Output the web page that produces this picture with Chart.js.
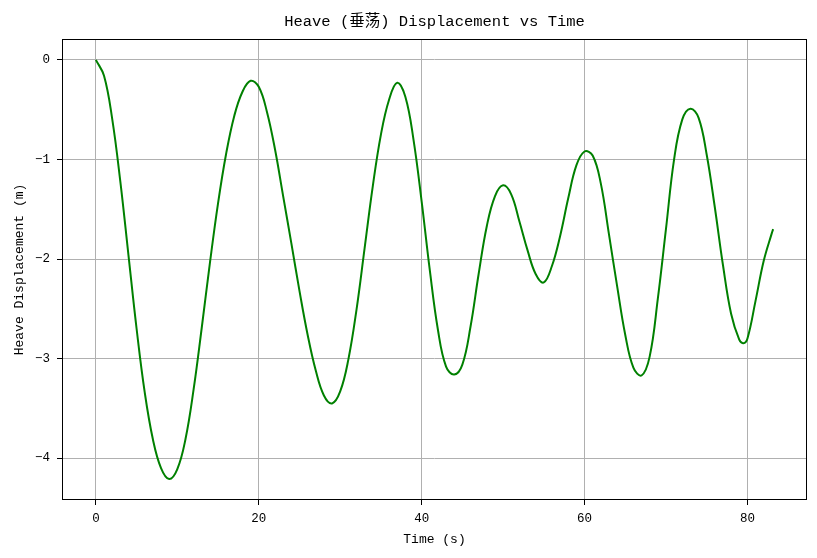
<!DOCTYPE html>
<html>
<head>
<meta charset="utf-8">
<script src="https://cdn.jsdelivr.net/npm/chart.js@4/dist/chart.umd.min.js"></script>
<style>
	html,body{margin:0;padding:0;background:#fff;}
	#wrap{width:817px;height:558px;}
</style>
</head>
<body>
<div id="wrap"><canvas id="ctx" width="817" height="558"></canvas></div>
<script>

// DATA
// --------------------
var timeS = [0,1,2,3,4,5,6,7,8,9,10,11,12,13,14,15,16,17,18,19,
	20,21,22,23,24,25,26,27,28,29,30,31,32,33,34,35,36,37,38,39,
	40,41,42,43,44,45,46,47,48,49,50,51,52,53,54,55,56,57,58,59,
	60,61,62,63,64,65,66,67,68,69,70,71,72,73,74,75,76,77,78,79,79.5,
	80,81,82,83,83.16];

var heaveM = [0,-0.16,-0.59,-1.22,-1.96,-2.7,-3.34,-3.81,-4.1,-4.21,-4.11,-3.81,-3.31,-2.69,-2.04,-1.44,-0.94,-0.56,-0.32,-0.21,
	-0.27,-0.52,-0.9,-1.37,-1.84,-2.32,-2.76,-3.12,-3.37,-3.45,-3.33,-3.01,-2.51,-1.89,-1.27,-0.75,-0.4,-0.23,-0.37,-0.8,
	-1.42,-2.11,-2.71,-3.08,-3.16,-3.06,-2.68,-2.15,-1.67,-1.37,-1.26,-1.35,-1.62,-1.91,-2.15,-2.235,-2.07,-1.77,-1.39,-1.06,
	-0.92,-0.96,-1.24,-1.75,-2.27,-2.76,-3.09,-3.17,-2.98,-2.4,-1.7,-1.0,-0.6,-0.49,-0.58,-0.95,-1.48,-2.06,-2.55,-2.81,-2.845,
	-2.8,-2.42,-2.02,-1.74,-1.7];

var xTicks = [0,20,40,60,80];
var yTicks = [0,-1,-2,-3,-4];

var chartTitle = 'Heave (垂荡) Displacement vs Time';
var xLabel = 'Time (s)';
var yLabel = 'Heave Displacement (m)';

// CHART
// --------------------
var FONT = '"Liberation Mono", "DejaVu Sans Mono", "Noto Sans CJK SC", monospace';
var GRID = '#b0b0b0';

var points = [];
for(var i = 0 ; i < timeS.length ; i++){
	points.push({x:timeS[i], y:heaveM[i]});
}

function fmt(v){
	return v < 0 ? '\u2212' + Math.abs(v) : String(v);
}

var frame = {
	id:'frame',
	afterDraw:function(chart){
		var a = chart.chartArea, c = chart.ctx;
		c.save();
		c.strokeStyle = '#000';
		c.lineWidth = 1;
		c.strokeRect(Math.round(a.left)+0.5, Math.round(a.top)+0.5, Math.round(a.right-a.left)-1, Math.round(a.bottom-a.top)-1);
		c.restore();
	}
};

var mychart = new Chart(document.getElementById('ctx'),{
	type:'line',
	data:{
		datasets:[{
			data:points,
			borderColor:'#008000',
			borderWidth:2,
			pointRadius:0,
			fill:false,
			tension:0.4
		}]
	},
	options:{
		responsive:false,
		animation:false,
		devicePixelRatio:1,
		layout:{padding:{left:0,right:10,top:0,bottom:0}},
		plugins:{
			legend:{display:false},
			tooltip:{enabled:false},
			title:{
				display:true,
				text:chartTitle,
				fullSize:false,
				color:'#000',
				font:{family:FONT,size:15.5,weight:'normal',lineHeight:1.2},
				padding:{top:13,bottom:7.4}
			}
		},
		scales:{
			x:{
				type:'linear',
				min:-4.16,
				max:87.32,
				afterBuildTicks:function(s){ s.ticks = xTicks.map(function(v){return {value:v};}); },
				afterFit:function(s){ s.height = 58; },
				grid:{color:GRID,lineWidth:1,tickColor:'#000',tickLength:5,drawTicks:true},
				border:{display:false},
				ticks:{color:'#000',padding:6,maxRotation:0,font:{family:FONT,size:12.5},callback:fmt},
				title:{display:true,text:xLabel,color:'#000',font:{family:FONT,size:13},padding:{top:0,bottom:11}}
			},
			y:{
				type:'linear',
				min:-4.42,
				max:0.21,
				afterBuildTicks:function(s){ s.ticks = yTicks.map(function(v){return {value:v};}); },
				afterFit:function(s){ s.width = 62; },
				grid:{color:GRID,lineWidth:1,tickColor:'#000',tickLength:5,drawTicks:true},
				border:{display:false},
				ticks:{color:'#000',padding:7,font:{family:FONT,size:12.5},callback:fmt},
				title:{display:true,text:yLabel,color:'#000',font:{family:FONT,size:13},padding:{top:12,bottom:0}}
			}
		}
	},
	plugins:[frame]
});

</script>
</body>
</html>
